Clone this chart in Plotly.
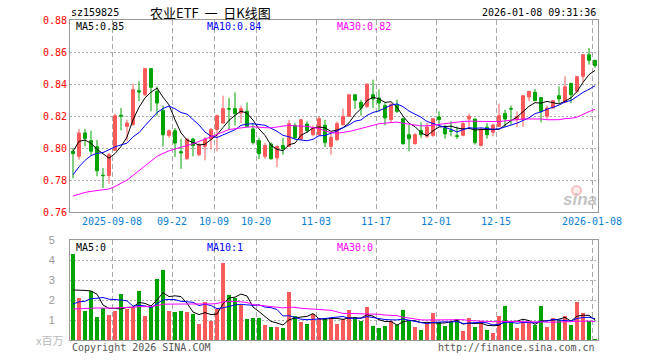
import plotly.graph_objects as go
import pandas as pd

# ---------------- data ----------------
dates = (
    "2025-08-28 2025-08-29 "
    "2025-09-01 2025-09-02 2025-09-03 2025-09-04 2025-09-05 2025-09-08 2025-09-09 2025-09-10 2025-09-11 2025-09-12 "
    "2025-09-15 2025-09-16 2025-09-17 2025-09-18 2025-09-19 2025-09-22 2025-09-23 2025-09-24 2025-09-25 2025-09-26 "
    "2025-09-29 2025-09-30 "
    "2025-10-09 2025-10-10 2025-10-13 2025-10-14 2025-10-15 2025-10-16 2025-10-17 2025-10-20 2025-10-21 2025-10-22 "
    "2025-10-23 2025-10-24 2025-10-27 2025-10-28 2025-10-29 2025-10-30 2025-10-31 "
    "2025-11-03 2025-11-04 2025-11-05 2025-11-06 2025-11-07 2025-11-10 2025-11-11 2025-11-12 2025-11-13 2025-11-14 "
    "2025-11-17 2025-11-18 2025-11-19 2025-11-20 2025-11-21 2025-11-24 2025-11-25 2025-11-26 2025-11-27 2025-11-28 "
    "2025-12-01 2025-12-02 2025-12-03 2025-12-04 2025-12-05 2025-12-08 2025-12-09 2025-12-10 2025-12-11 2025-12-12 "
    "2025-12-15 2025-12-16 2025-12-17 2025-12-18 2025-12-19 2025-12-22 2025-12-23 2025-12-24 2025-12-25 2025-12-26 "
    "2025-12-29 2025-12-30 2025-12-31 "
    "2026-01-05 2026-01-06 2026-01-07 2026-01-08"
).split()

opens = [0.7980, 0.7948, 0.8094, 0.8046, 0.8008, 0.7830, 0.7827, 0.7985, 0.8205, 0.8135,
         0.8146, 0.8358, 0.8333, 0.8496, 0.8354, 0.8235, 0.8079, 0.8108, 0.7977, 0.7933,
         0.8056, 0.7958, 0.8010, 0.8056, 0.8115, 0.8156, 0.8246, 0.8246, 0.8219, 0.8229,
         0.8119, 0.8046, 0.7948, 0.8025, 0.7938, 0.8015, 0.8010, 0.8140, 0.8056, 0.8150,
         0.8083, 0.8083, 0.8142, 0.8010, 0.8052, 0.8146, 0.8198, 0.8333, 0.8285, 0.8260,
         0.8333, 0.8313, 0.8265, 0.8177, 0.8267, 0.8183, 0.8083, 0.8027, 0.8110, 0.8073,
         0.8079, 0.8194, 0.8125, 0.8108, 0.8077, 0.8079, 0.8181, 0.8181, 0.8015, 0.8129,
         0.8098, 0.8135, 0.8215, 0.8246, 0.8177, 0.8177, 0.8319, 0.8348, 0.8315, 0.8198,
         0.8250, 0.8327, 0.8285, 0.8404, 0.8354, 0.8448, 0.8583, 0.8548]
highs = [0.8000, 0.8119, 0.8120, 0.8108, 0.8050, 0.7875, 0.7969, 0.8215, 0.8250, 0.8177,
         0.8402, 0.8417, 0.8496, 0.8496, 0.8385, 0.8265, 0.8115, 0.8125, 0.8058, 0.8060,
         0.8063, 0.8031, 0.8067, 0.8125, 0.8208, 0.8327, 0.8313, 0.8348, 0.8265, 0.8285,
         0.8156, 0.8063, 0.8031, 0.8035, 0.8015, 0.8063, 0.8177, 0.8156, 0.8181, 0.8167,
         0.8140, 0.8198, 0.8177, 0.8090, 0.8167, 0.8246, 0.8333, 0.8335, 0.8302, 0.8400,
         0.8427, 0.8365, 0.8281, 0.8281, 0.8302, 0.8183, 0.8146, 0.8094, 0.8160, 0.8156,
         0.8183, 0.8229, 0.8146, 0.8167, 0.8135, 0.8167, 0.8215, 0.8181, 0.8125, 0.8156,
         0.8152, 0.8277, 0.8240, 0.8265, 0.8229, 0.8327, 0.8354, 0.8369, 0.8315, 0.8265,
         0.8296, 0.8385, 0.8448, 0.8404, 0.8446, 0.8583, 0.8625, 0.8548]
lows = [0.7810, 0.7927, 0.8010, 0.7958, 0.7823, 0.7750, 0.7777, 0.7985, 0.8110, 0.8042,
        0.8140, 0.8292, 0.8323, 0.8229, 0.8202, 0.8010, 0.8063, 0.7944, 0.7870, 0.7927,
        0.7948, 0.7948, 0.7923, 0.7990, 0.7980, 0.8152, 0.8115, 0.8140, 0.8156, 0.8131,
        0.8021, 0.7931, 0.7931, 0.7927, 0.7881, 0.7958, 0.8006, 0.8056, 0.8048, 0.8094,
        0.8073, 0.8077, 0.8006, 0.7958, 0.8042, 0.8140, 0.8194, 0.8244, 0.8202, 0.8250,
        0.8250, 0.8229, 0.8142, 0.8156, 0.8219, 0.8021, 0.7979, 0.8021, 0.8063, 0.8063,
        0.8069, 0.8135, 0.8058, 0.8073, 0.8056, 0.8073, 0.8131, 0.8021, 0.8010, 0.8058,
        0.8073, 0.8131, 0.8131, 0.8146, 0.8131, 0.8131, 0.8292, 0.8292, 0.8160, 0.8177,
        0.8246, 0.8281, 0.8281, 0.8281, 0.8348, 0.8410, 0.8521, 0.8500]
closes = [0.7965, 0.8094, 0.8060, 0.7980, 0.7858, 0.7827, 0.7958, 0.8202, 0.8200, 0.8156,
          0.8365, 0.8350, 0.8496, 0.8379, 0.8281, 0.8083, 0.8108, 0.8031, 0.7970, 0.8056,
          0.8015, 0.8021, 0.8056, 0.8115, 0.8202, 0.8246, 0.8244, 0.8215, 0.8246, 0.8135,
          0.8035, 0.7965, 0.8015, 0.7933, 0.8010, 0.7994, 0.8152, 0.8063, 0.8177, 0.8110,
          0.8125, 0.8183, 0.8035, 0.8067, 0.8152, 0.8198, 0.8333, 0.8298, 0.8250, 0.8400,
          0.8306, 0.8281, 0.8188, 0.8271, 0.8229, 0.8027, 0.8058, 0.8083, 0.8083, 0.8131,
          0.8183, 0.8177, 0.8088, 0.8104, 0.8073, 0.8152, 0.8198, 0.8035, 0.8119, 0.8083,
          0.8144, 0.8202, 0.8181, 0.8244, 0.8196, 0.8327, 0.8354, 0.8296, 0.8229, 0.8250,
          0.8296, 0.8306, 0.8383, 0.8333, 0.8446, 0.8583, 0.8548, 0.8515]
# volume, millions
volumes = [4.30, 2.10, 1.45, 2.45, 1.15, 1.60, 1.25, 1.45, 2.30, 1.55,
           1.65, 2.45, 1.20, 1.65, 3.05, 3.50, 1.45, 1.40, 1.45, 1.40,
           1.30, 0.80, 1.90, 0.95, 1.55, 3.85, 2.25, 2.10, 1.75, 1.05,
           1.10, 1.10, 0.75, 0.65, 0.65, 0.60, 2.40, 1.20, 0.90, 0.80,
           1.30, 1.10, 1.10, 1.10, 0.80, 1.05, 1.50, 1.15, 0.97, 1.65,
           0.70, 0.60, 0.70, 0.97, 0.75, 1.50, 0.95, 0.65, 0.50, 0.82,
           1.35, 0.88, 0.72, 0.88, 1.05, 0.45, 1.10, 0.65, 0.97, 0.50,
           0.35, 1.20, 1.70, 0.85, 0.60, 0.85, 0.85, 0.75, 1.70, 0.65,
           1.10, 1.00, 1.20, 0.75, 1.90, 1.35, 0.95, 0.05]
# estimated sessions before the visible window (needed for moving averages)
prior_closes = [0.772, 0.776, 0.778, 0.775, 0.773, 0.772, 0.772,
                0.762, 0.755, 0.748, 0.745, 0.747, 0.750, 0.752,
                0.755, 0.760, 0.768, 0.770, 0.768, 0.769,
                0.760, 0.765, 0.768, 0.772, 0.778,
                0.778, 0.802, 0.808, 0.805]
prior_volumes = [1.6, 1.3, 1.5, 1.2, 1.8, 1.4, 1.3, 1.6, 1.5, 1.2,
                 1.4, 1.5, 1.3, 1.6, 1.4, 1.3, 1.5, 1.4, 1.3, 1.4,
                 1.0, 1.2, 1.1, 1.0, 1.2,
                 2.1, 1.55, 2.6, 1.95]

tick_dates = ["2025-09-08", "2025-09-22", "2025-10-09", "2025-10-20", "2025-11-03",
              "2025-11-17", "2025-12-01", "2025-12-15", "2026-01-08"]
tick_text = ["2025-09-08", "09-22", "10-09", "10-20", "11-03", "11-17", "12-01", "12-15", "2026-01-08"]
price_ticks = [0.76, 0.78, 0.80, 0.82, 0.84, 0.86, 0.88]
vol_ticks = [1, 2, 3, 4, 5]

# ---------------- derived ----------------
n = len(dates)
xs = list(range(n))
cl_all = pd.Series(prior_closes + closes)
vo_all = pd.Series(prior_volumes + volumes)
ma = {w: cl_all.rolling(w).mean().iloc[-n:].tolist() for w in (5, 10, 30)}
vma = {w: vo_all.rolling(w).mean().iloc[-n:].tolist() for w in (5, 10, 30)}

RED = "#fb5a5a"
GREEN = "#00a400"
MA_COL = {5: "#000000", 10: "#0000ff", 30: "#ff00ff"}
MONO = "DejaVu Sans Mono"
GRID = "#aaaaaa"

L, R, T, B = 70, 598, 20, 340
def px(x):
    return (x - L) / (R - L)
def py(y):
    return (B - y) / (B - T)

fig = go.Figure()
fig.add_trace(go.Candlestick(
    x=xs, open=opens, high=highs, low=lows, close=closes,
    increasing=dict(line=dict(color=RED, width=1), fillcolor=RED),
    decreasing=dict(line=dict(color=GREEN, width=1), fillcolor=GREEN),
    whiskerwidth=0, xaxis="x", yaxis="y", hoverinfo="skip"))
for w in (5, 10, 30):
    fig.add_trace(go.Scatter(x=xs, y=ma[w], mode="lines", line=dict(color=MA_COL[w], width=1),
                             xaxis="x", yaxis="y", hoverinfo="skip"))

vcolors = [RED if c >= o else GREEN for o, c in zip(opens, closes)]
fig.add_trace(go.Bar(x=xs, y=volumes, marker=dict(color=vcolors, line=dict(width=0)),
                     width=0.78, xaxis="x2", yaxis="y2", hoverinfo="skip"))
for w in (5, 10, 30):
    fig.add_trace(go.Scatter(x=xs, y=vma[w], mode="lines", line=dict(color=MA_COL[w], width=1),
                             xaxis="x2", yaxis="y2", hoverinfo="skip"))

tickpos = [dates.index(d) - 0.5 for d in tick_dates]
axis_common = dict(range=[-0.5, n - 0.5], showline=True, mirror=True, linecolor="#999999",
                   linewidth=1, showgrid=True, gridcolor=GRID, griddash="5px,3px", gridwidth=1,
                   zeroline=False, tickvals=tickpos, ticks="")

fig.update_layout(
    width=660, height=360, autosize=False,
    margin=dict(l=L, r=660 - R, t=T, b=360 - B),
    paper_bgcolor="white", plot_bgcolor="white",
    showlegend=False, boxgap=0.3, bargap=0,
    xaxis=dict(axis_common, anchor="y", ticktext=tick_text,
               tickfont=dict(family=MONO, size=10, color="#0a80d0"),
               rangeslider=dict(visible=False)),
    xaxis2=dict(axis_common, anchor="y2", matches="x", showticklabels=False),
    yaxis=dict(domain=[py(212), py(20)], range=[0.76, 0.88], tickvals=price_ticks,
               ticktext=[f"{v:.2f}" for v in price_ticks],
               tickfont=dict(family=MONO, size=10, color="#ff0000"),
               showline=True, mirror=True, linecolor="#999999", linewidth=1,
               showgrid=True, gridcolor=GRID, griddash="2px,2px", zeroline=False, ticks=""),
    yaxis2=dict(domain=[0, py(240)], range=[0, 5], tickvals=vol_ticks,
                ticktext=[str(v) for v in vol_ticks],
                tickfont=dict(family="Liberation Sans", size=11, color="#999999"),
                ticks="outside", ticklen=12, tickcolor="rgba(0,0,0,0)",
                showline=True, mirror=True, linecolor="#999999", linewidth=1,
                showgrid=True, gridcolor=GRID, griddash="2px,2px", zeroline=False),
)

def note(text, x, y, color="#000000", size=10, family=MONO, anchor="left", **kw):
    fig.add_annotation(text=text, x=px(x), y=py(y), xref="paper", yref="paper",
                       xanchor=anchor, yanchor="middle", showarrow=False,
                       font=dict(family=family, size=size, color=color, **kw))

note("sz159825", 69, 13)
note("农业ETF\u00a0\u00a0一\u00a0\u00a0日K线图", 210, 12, size=13, family="Noto Sans CJK SC", anchor="center")
note("2026-01-08 09:31:36", 598, 13, anchor="right")
note(f"MA5:{ma[5][-1]:.2f}", 74, 27, color=MA_COL[5])
note(f"MA10:{ma[10][-1]:.2f}", 205, 27, color=MA_COL[10])
note(f"MA30:{ma[30][-1]:.2f}", 335, 27, color=MA_COL[30])
note("MA5:0", 74, 247, color=MA_COL[5])
note("MA10:1", 205, 247, color=MA_COL[10])
note("MA30:0", 335, 247, color=MA_COL[30])
note("x百万", 65, 340, color="#bbbbbb", size=11, family="Noto Sans CJK SC", anchor="right")
note("Copyright 2026 SINA.COM", 70, 347, color="#555555")
note("http://finance.sina.com.cn", 597, 347, color="#555555", anchor="right")
# faint sina watermark (eye logo + word)
fig.add_shape(type="circle", xref="paper", yref="paper",
              x0=px(572), x1=px(581), y0=py(195), y1=py(186),
              line=dict(color="rgba(240,150,150,0.55)", width=2), fillcolor="rgba(250,200,200,0.35)")
note("sina", 580, 199, color="rgba(175,175,175,0.75)", size=17, family="Liberation Sans",
     anchor="center", style="italic", weight="bold")

fig.write_html("out.html", config={"displayModeBar": False})
